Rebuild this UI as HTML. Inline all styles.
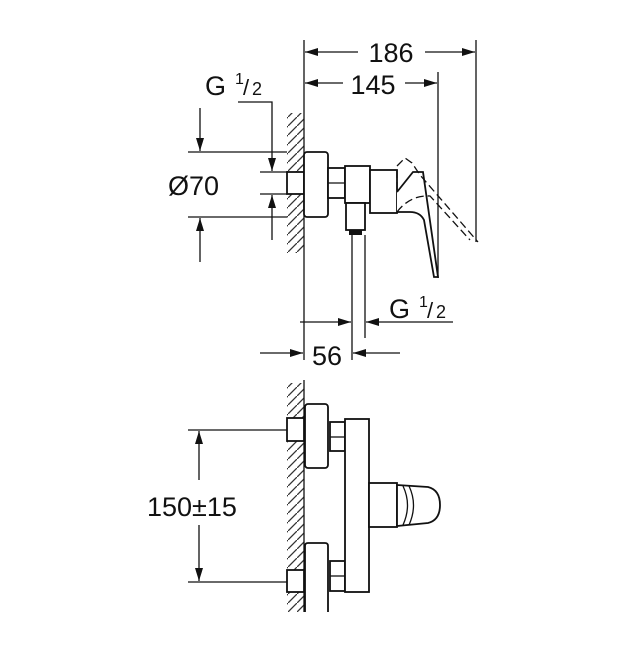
<!DOCTYPE html>
<html><head><style>body{margin:0;background:#fff}svg{display:block}text{font-family:"Liberation Sans",sans-serif;fill:#111}</style></head>
<body>
<svg width="636" height="661" viewBox="0 0 636 661" xmlns="http://www.w3.org/2000/svg">
<defs>
<marker id="a" markerWidth="13" markerHeight="8" refX="13" refY="4" orient="auto" markerUnits="userSpaceOnUse"><path d="M0,0 L13,4 L0,8 z" fill="#111"/></marker>
<pattern id="h" width="9" height="9" patternUnits="userSpaceOnUse"><path d="M-2,11 L11,-2" stroke="#333" stroke-width="1.3"/></pattern>
</defs>
<g stroke="#111" fill="none" stroke-width="1.3">
<rect x="287" y="113" width="17" height="140" fill="url(#h)" stroke="none"/>
<line x1="304" y1="40" x2="304" y2="360"/>
<line x1="476" y1="40" x2="476" y2="242"/>
<line x1="438" y1="72" x2="438" y2="278"/>
<line x1="358" y1="52" x2="305" y2="52" marker-end="url(#a)"/>
<line x1="425" y1="52" x2="475" y2="52" marker-end="url(#a)"/>
<line x1="343" y1="83" x2="305" y2="83" marker-end="url(#a)"/>
<line x1="405" y1="83" x2="437" y2="83" marker-end="url(#a)"/>
<rect x="287" y="172" width="17" height="22" fill="#fff" stroke-width="1.8"/>
<rect x="304" y="152" width="24" height="65" rx="3" fill="#fff" stroke-width="1.8"/>
<rect x="328" y="168" width="17" height="30" fill="#fff" stroke-width="1.8"/>
<line x1="328" y1="183" x2="345" y2="183"/>
<rect x="345" y="166" width="25" height="37" fill="#fff" stroke-width="1.8"/>
<rect x="346" y="203" width="19" height="27" fill="#fff" stroke-width="1.8"/>
<rect x="349" y="230" width="13" height="5" fill="#111" stroke="none"/>
<line x1="352" y1="235" x2="352" y2="360"/>
<line x1="365" y1="235" x2="365" y2="338"/>
<rect x="370" y="170" width="27" height="43" fill="#fff" stroke-width="1.8"/>
<path d="M397,192 L413,172 L423,172 L438,277 L434,277 L424,220 Q420,212 410,212 L397,212" fill="#fff" stroke-width="1.8"/>
<path d="M397,190 L397,166 L405,158 L412,163 L420,175 L478,242 M397,212 Q410,195 430,196 L470,240" stroke-dasharray="8,4"/>
<line x1="188" y1="152" x2="287" y2="152"/>
<line x1="188" y1="217" x2="287" y2="217"/>
<line x1="200" y1="108" x2="200" y2="151" marker-end="url(#a)"/>
<line x1="200" y1="262" x2="200" y2="218" marker-end="url(#a)"/>
<line x1="260" y1="172" x2="287" y2="172"/>
<line x1="260" y1="194" x2="287" y2="194"/>
<polyline points="238,102 272,102 272,171" marker-end="url(#a)"/>
<line x1="272" y1="240" x2="272" y2="195" marker-end="url(#a)"/>
<line x1="300" y1="322" x2="351" y2="322" marker-end="url(#a)"/>
<line x1="453" y1="322" x2="366" y2="322" marker-end="url(#a)"/>
<line x1="260" y1="353" x2="303" y2="353" marker-end="url(#a)"/>
<line x1="400" y1="353" x2="353" y2="353" marker-end="url(#a)"/>
<rect x="287" y="383" width="17" height="229" fill="url(#h)" stroke="none"/>
<line x1="304" y1="380" x2="304" y2="612"/>
<rect x="287" y="418" width="17" height="23" fill="#fff" stroke-width="1.8"/>
<rect x="287" y="570" width="17" height="22" fill="#fff" stroke-width="1.8"/>
<rect x="305" y="404" width="23" height="64" rx="3" fill="#fff" stroke-width="1.8"/>
<path d="M305,612 L305,546 Q305,543 308,543 L325,543 Q328,543 328,546 L328,612" fill="#fff" stroke-width="1.8"/>
<rect x="330" y="422" width="15" height="29" fill="#fff" stroke-width="1.8"/>
<line x1="330" y1="437" x2="345" y2="437"/>
<rect x="330" y="561" width="15" height="30" fill="#fff" stroke-width="1.8"/>
<line x1="330" y1="576" x2="345" y2="576"/>
<rect x="345" y="419" width="24" height="173" fill="#fff" stroke-width="1.8"/>
<rect x="369" y="483" width="28" height="44" fill="#fff" stroke-width="1.8"/>
<path d="M397,485 L428,487 Q440,490 440,505 Q440,520 428,523 L397,526 Z" fill="#fff" stroke-width="1.8"/>
<path d="M403,486 Q412,505 403,525 M409,486 Q418,505 409,525"/>
<line x1="188" y1="430" x2="287" y2="430"/>
<line x1="188" y1="582" x2="287" y2="582"/>
<line x1="199" y1="480" x2="199" y2="431" marker-end="url(#a)"/>
<line x1="199" y1="525" x2="199" y2="581" marker-end="url(#a)"/>
</g>
<text x="391" y="62" font-size="27" text-anchor="middle">186</text>
<text x="373" y="94" font-size="27" text-anchor="middle">145</text>
<text x="205" y="95" font-size="27">G</text><text x="235" y="84" font-size="16">1</text><text x="243" y="95" font-size="22">/</text><text x="252" y="95" font-size="18">2</text>
<text x="168" y="195" font-size="27">Ø70</text>
<text x="389" y="318" font-size="27">G</text><text x="419" y="307" font-size="16">1</text><text x="427" y="318" font-size="22">/</text><text x="436" y="318" font-size="18">2</text>
<text x="312" y="365" font-size="27">56</text>
<text x="147" y="516" font-size="27">150±15</text>
</svg>
</body></html>
